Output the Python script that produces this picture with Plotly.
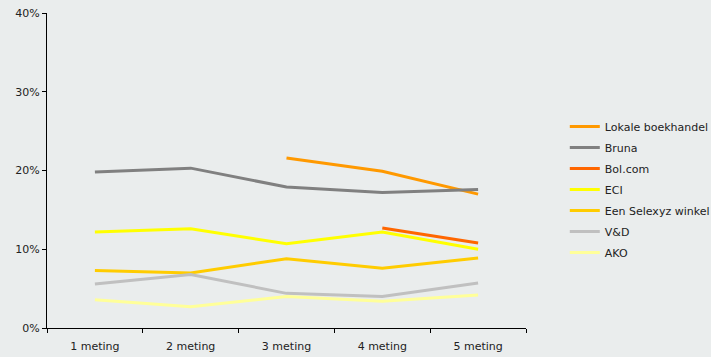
import plotly.graph_objects as go

# Survey rounds
metingen = ["1 meting", "2 meting", "3 meting", "4 meting", "5 meting"]

# Share per store (%) per round; None = not measured in that round
lokale_boekhandel = [None, None, 21.6, 19.9, 17.0]
bruna = [19.8, 20.3, 17.9, 17.2, 17.6]
bol_com = [None, None, None, 12.7, 10.8]
eci = [12.2, 12.6, 10.7, 12.2, 10.0]
selexyz = [7.3, 7.0, 8.8, 7.6, 8.9]
v_en_d = [5.6, 6.8, 4.4, 4.0, 5.7]
ako = [3.6, 2.7, 4.0, 3.4, 4.2]

y_ticks = [0, 10, 20, 30, 40]

series = [
    ("Lokale boekhandel", lokale_boekhandel, "#FF9900"),
    ("Bruna", bruna, "#808080"),
    ("Bol.com", bol_com, "#FF6600"),
    ("ECI", eci, "#FFFF00"),
    ("Een Selexyz winkel", selexyz, "#FFCC00"),
    ("V&D", v_en_d, "#C0C0C0"),
    ("AKO", ako, "#FFFF99"),
]

bg = "#EAEDED"
font = dict(family="DejaVu Sans, Verdana, sans-serif", size=11, color="#222222")

fig = go.Figure()
for name, values, color in series:
    fig.add_trace(go.Scatter(
        x=metingen, y=values, name=name, mode="lines",
        legendgroup=name,
        line=dict(color=color, width=3), connectgaps=False,
    ))

fig.update_layout(
    width=711, height=357,
    margin=dict(l=47, r=185, t=13, b=29, autoexpand=False),
    paper_bgcolor=bg, plot_bgcolor=bg,
    font=font,
    showlegend=True,
    legend=dict(x=1.081, y=0.44, yanchor="middle", xanchor="left",
                bgcolor="rgba(0,0,0,0)", font=font, tracegroupgap=2),
    xaxis=dict(
        type="category", range=[-0.5, 4.5],
        showline=True, linecolor="#000000", linewidth=1,
        ticks="outside", tickson="boundaries", ticklen=4, tickcolor="#000000",
        ticklabelstandoff=8,
        showgrid=False, zeroline=False,
    ),
    yaxis=dict(
        range=[0, 40], tickvals=y_ticks,
        ticktext=[f"{v}%" for v in y_ticks],
        showline=True, linecolor="#000000", linewidth=1,
        ticks="outside", ticklen=4, tickcolor="#000000",
        showgrid=False, zeroline=False,
    ),
)

fig.write_html("out.html")
